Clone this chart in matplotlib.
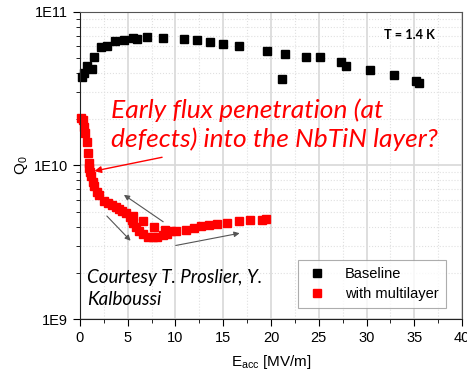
import numpy as np
import matplotlib
matplotlib.use("Agg")
import matplotlib.pyplot as plt
from matplotlib.ticker import LogLocator, MultipleLocator, NullFormatter, FixedFormatter, FixedLocator

# Baseline cavity, Q0 vs Eacc
base_e = [0.24, 0.45, 0.70, 1.30, 1.45, 2.19, 2.85, 3.66, 4.63, 5.57, 5.92, 6.97, 8.70,
          10.9, 12.2, 13.6, 15.0, 16.6, 19.6, 21.2, 21.5, 23.7, 25.1, 27.3, 27.9, 30.4,
          32.9, 35.2, 35.5]
base_q = [3.79e10, 3.99e10, 4.47e10, 4.23e10, 5.07e10, 5.89e10, 6.03e10, 6.44e10, 6.57e10,
          6.75e10, 6.61e10, 6.81e10, 6.75e10, 6.61e10, 6.55e10, 6.41e10, 6.21e10, 6.03e10,
          5.59e10, 3.65e10, 5.33e10, 5.09e10, 5.09e10, 4.70e10, 4.47e10, 4.19e10, 3.91e10,
          3.55e10, 3.43e10]

# Cavity with multilayer
multi_e = [0.10, 0.34, 0.45, 0.55, 0.70, 0.80, 0.91, 0.97, 1.04, 1.15, 1.32, 1.49, 1.74,
           2.02, 2.50, 2.90, 3.40, 3.75, 4.10, 4.45, 4.85, 5.20, 5.40, 5.60, 5.90, 6.20,
           6.60, 7.10, 7.60, 8.10, 8.70, 9.10, 9.50, 10.1, 11.1, 11.9, 12.7, 13.5, 14.3,
           15.4, 16.7, 17.8, 19.1, 19.5, 5.60, 6.60, 7.80, 8.90]
multi_q = [2.04e10, 1.98e10, 1.79e10, 1.62e10, 1.43e10, 1.20e10, 1.04e10, 9.6e9, 9.1e9,
           8.5e9, 7.86e9, 7.3e9, 6.75e9, 6.43e9, 5.9e9, 5.7e9, 5.53e9, 5.39e9, 5.21e9,
           5.06e9, 4.89e9, 4.65e9, 4.42e9, 4.2e9, 3.99e9, 3.74e9, 3.56e9, 3.44e9, 3.41e9,
           3.44e9, 3.5e9, 3.58e9, 3.72e9, 3.72e9, 3.8e9, 3.92e9, 4.04e9, 4.1e9, 4.14e9,
           4.24e9, 4.35e9, 4.41e9, 4.41e9, 4.46e9, 4.68e9, 4.37e9, 3.99e9, 3.8e9]

x_ticks = [0, 5, 10, 15, 20, 25, 30, 35, 40]
y_ticks = [1e9, 1e10, 1e11]
y_tick_labels = ['1E9', '1E10', '1E11']

plt.rcParams['font.family'] = ['Liberation Sans', 'DejaVu Sans']

fig = plt.figure(figsize=(4.67, 3.71), dpi=100)
ax = fig.add_axes([0.1713, 0.140, 0.818, 0.828])

ax.set_yscale('log')
ax.set_xlim(0, 40)
ax.set_ylim(1e9, 1e11)

ax.xaxis.set_major_locator(FixedLocator(x_ticks))
ax.xaxis.set_minor_locator(MultipleLocator(2.5))
ax.yaxis.set_major_locator(FixedLocator(y_ticks))
ax.yaxis.set_major_formatter(FixedFormatter(y_tick_labels))
ax.yaxis.set_minor_locator(LogLocator(base=10, subs=np.arange(2, 10)))
ax.yaxis.set_minor_formatter(NullFormatter())

ax.grid(True, which='major', color='#d8d8d8', lw=1.2)
ax.grid(True, which='minor', color='#e0e0e0', lw=0.8, ls=':')
ax.set_axisbelow(True)

ax.tick_params(which='both', direction='out', top=False, right=False, labelsize=10.5)
ax.tick_params(which='major', length=5)
ax.tick_params(which='minor', length=3)
for s in ['left', 'bottom']:
    ax.spines[s].set_color('#222222')
for s in ['top', 'right']:
    ax.spines[s].set_color('#555555')

ax.plot(base_e, base_q, 's', color='black', ms=5.5, label='Baseline', clip_on=False)
ax.plot(multi_e, multi_q, 's', color='red', ms=5.5, label='with multilayer', clip_on=False)

ax.set_xlabel(r'E$_{\mathregular{acc}}$ [MV/m]', fontsize=11, labelpad=6)
ax.set_ylabel(r'Q$_{\mathregular{0}}$', fontsize=11, labelpad=3)

# arrows showing the measurement sequence
arr = dict(arrowstyle='-|>', color='#555555', lw=0.8, mutation_scale=8)
ax.annotate('', xy=(4.36, 6.59e9), xytext=(8.95, 4.2e9), arrowprops=arr)
ax.annotate('', xy=(5.5, 3.14e9), xytext=(2.61, 4.83e9), arrowprops=arr)
ax.annotate('', xy=(17.0, 3.65e9), xytext=(9.74, 2.99e9), arrowprops=arr)

ax.annotate('', xy=(1.22, 9.12e9), xytext=(8.88, 1.14e10),
            arrowprops=dict(arrowstyle='-|>', color='red', lw=1.0, mutation_scale=10))

ax.text(3.2, 1.84e10, 'Early flux penetration (at\ndefects) into the NbTiN layer?',
        color='red', fontsize=19, style='italic', family=['Lato', 'DejaVu Sans'],
        va='center', ha='left', linespacing=1.25)
ax.text(0.7, 1.58e9, 'Courtesy T. Proslier, Y.\nKalboussi', fontsize=13.5,
        style='italic', family=['Lato', 'DejaVu Sans'], va='center', ha='left',
        linespacing=1.35)
ax.text(34.5, 7.1e10, 'T = 1.4 K', fontsize=9.2, weight='bold', family=['Lato', 'DejaVu Sans'],
        ha='center', va='center')

leg = ax.legend(loc='lower right', bbox_to_anchor=(0.958, 0.036), fontsize=10.5,
                frameon=True, fancybox=False, handletextpad=1.2, borderpad=0.5,
                labelspacing=0.4, handlelength=1.5, borderaxespad=0)
leg.get_frame().set_edgecolor('#999999')
leg.get_frame().set_linewidth(0.8)

fig.savefig('out.png', dpi=100)
